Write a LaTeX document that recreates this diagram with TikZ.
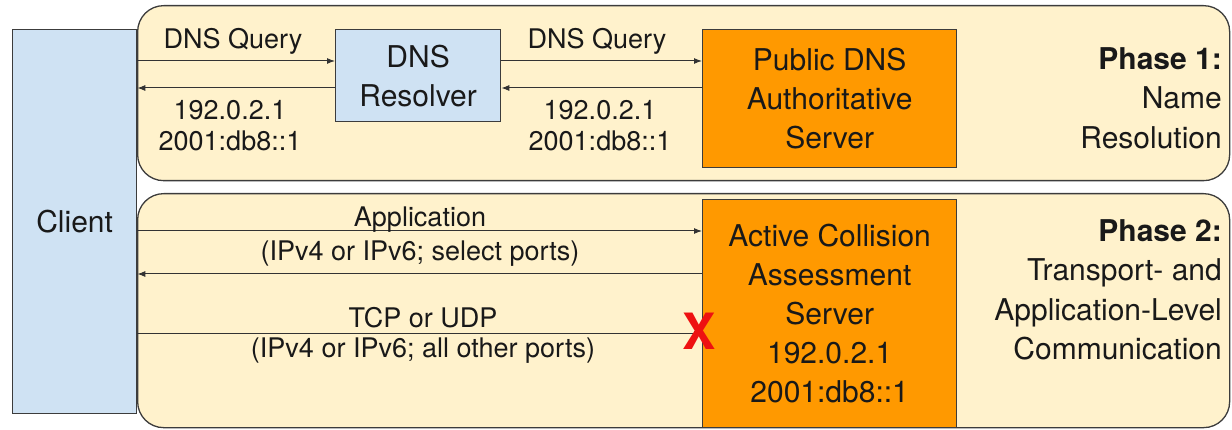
\documentclass[tikz,border=0pt]{standalone}
\usepackage{fontspec}
\setmainfont{TeX Gyre Heros}
\usetikzlibrary{arrows.meta,positioning}
\definecolor{phasebg}{HTML}{FFF2CC}
\definecolor{hostblue}{HTML}{CFE2F3}
\definecolor{srvorange}{HTML}{FF9900}
\definecolor{edgegray}{HTML}{3C3C3C}
\definecolor{blockred}{HTML}{EE1111}

\begin{document}
\begin{tikzpicture}[x=1pt, y=-1pt,
  phase/.style={draw=edgegray, line width=1.3pt, fill=phasebg, rounded corners=26pt, inner sep=0pt, anchor=north west},
  box/.style={draw=edgegray, line width=1.3pt, inner sep=0pt, anchor=north west, align=center, text=black!90, font=\fontsize{30}{39}\selectfont},
  msg/.style={-{Latex[length=8pt,width=6pt]}, line width=1pt, draw=black!80},
  lbl/.style={inner sep=0pt, align=center, text=black!90},
  phasetxt/.style={inner sep=0pt, anchor=north east, align=right, text=black!90, font=\fontsize{30}{39.5}\selectfont}]
\useasboundingbox (0,0) rectangle (1232,430);
% the two phases
\node[phase, minimum width=1092pt, minimum height=175pt] (phaseone) at (137,5) {};
\node[phase, minimum width=1092pt, minimum height=234pt] (phasetwo) at (137,193) {};
% hosts and servers
\node[box, fill=hostblue, minimum width=124pt, minimum height=384pt] (client) at (12,29) {Client};
\node[box, fill=hostblue, minimum width=165pt, minimum height=92pt] (resolver) at (335,29) {DNS\\Resolver};
\node[box, fill=srvorange, minimum width=254pt, minimum height=138pt] (authdns) at (702,29) {Public DNS\\Authoritative\\Server};
\node[box, fill=srvorange, minimum width=254pt, minimum height=228pt] (acas) at (702,199) {Active Collision\\Assessment\\Server\\192.0.2.1\\2001:db8::1};
% message levels
\coordinate (qry) at (0,61);
\coordinate (ans) at (0,88);
\coordinate (app) at (0,231);
\coordinate (appback) at (0,274);
\coordinate (tcp) at (0,334);
% phase 1: name resolution
\draw[msg] (client.east |- qry) -- (resolver.west |- qry);
\draw[msg] (resolver.west |- ans) -- (client.east |- ans);
\draw[msg] (resolver.east |- qry) -- (authdns.west |- qry);
\draw[msg] (authdns.west |- ans) -- (resolver.east |- ans);
\node[lbl, anchor=base, font=\fontsize{27}{31}\selectfont] (qrylabA) at (233,49) {DNS Query};
\node[lbl, anchor=base, font=\fontsize{27}{31}\selectfont] (qrylabB) at (597,49) {DNS Query};
\node[lbl, anchor=north, font=\fontsize{27}{31}\selectfont] (anslabA) at (230,100) {192.0.2.1\\2001:db8::1};
\node[lbl, anchor=north, font=\fontsize{27}{31}\selectfont] (anslabB) at (600,100) {192.0.2.1\\2001:db8::1};
% phase 2: transport and application
\draw[msg] (client.east |- app) -- (acas.west |- app);
\draw[msg] (acas.west |- appback) -- (client.east |- appback);
\draw[msg] (client.east |- tcp) -- (acas.west |- tcp);
\node[lbl, anchor=north, font=\fontsize{27}{34}\selectfont] (applab) at (420,207) {Application\\(IPv4 or IPv6; select ports)};
\node[lbl, anchor=north, font=\fontsize{27}{30}\selectfont] (tcplab) at (423,307) {TCP or UDP\\(IPv4 or IPv6; all other ports)};
\node[inner sep=0pt, text=blockred, font=\fontsize{50}{50}\selectfont\bfseries] (blocked) at (699,331) {X};
% phase titles
\node[phasetxt] (phaseonetxt) at (1222,47) {\textbf{Phase 1:}\\Name\\Resolution};
\node[phasetxt] (phasetwotxt) at (1222,219) {\textbf{Phase 2:}\\Transport- and\\Application-Level\\Communication};
\end{tikzpicture}
\end{document}
